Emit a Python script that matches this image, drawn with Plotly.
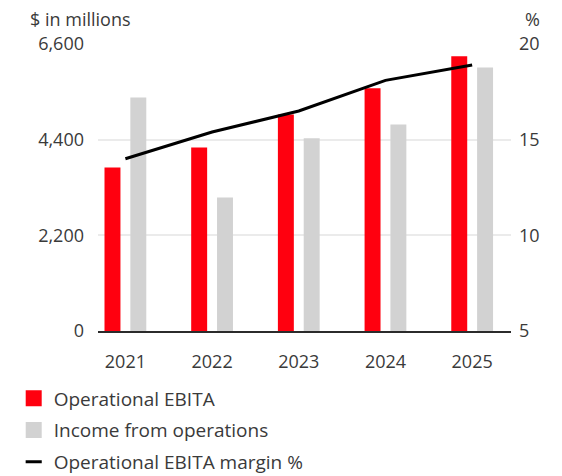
import plotly.graph_objects as go

# Data ($ in millions, margin in %)
years = ["2021", "2022", "2023", "2024", "2025"]
operational_ebita = [3760, 4220, 4980, 5580, 6320]
income_from_operations = [5370, 3070, 4430, 4750, 6060]
ebita_margin_pct = [14.0, 15.4, 16.5, 18.1, 18.9]

left_ticks = [0, 2200, 4400, 6600]
right_ticks = [5, 10, 15, 20]

RED = "#FF000F"
GREY = "#D2D2D2"
TEXT = "#3a3a3a"
FONT = "Open Sans"

W, H = 562, 476
L, R, T, B = 97.5, 50.5, 44, 144.5
plot_w = W - L - R
plot_h = H - T - B


def px_x(px):
    return (px - L) / plot_w


def px_y(py):
    return (H - B - py) / plot_h


fig = go.Figure()

fig.add_trace(go.Bar(
    x=years, y=operational_ebita, name="Operational EBITA",
    marker=dict(color=RED, line=dict(width=0)),
    width=0.184, offset=-0.241, showlegend=False,
))
fig.add_trace(go.Bar(
    x=years, y=income_from_operations, name="Income from operations",
    marker=dict(color=GREY, line=dict(width=0)),
    width=0.184, offset=0.057, showlegend=False,
))
fig.add_trace(go.Scatter(
    x=years, y=ebita_margin_pct, name="Operational EBITA margin %",
    mode="lines", line=dict(color="black", width=3),
    yaxis="y2", showlegend=False,
))

# Legend keys: square swatches for the bars and a short dash for the line
legend_keys = [
    ("Operational EBITA", dict(symbol="square", size=16, color=RED)),
    ("Income from operations", dict(symbol="square", size=16, color=GREY)),
    ("Operational EBITA margin %", dict(symbol="line-ew", size=11.5,
                                        line=dict(color="black", width=3))),
]
for i, (label, mk) in enumerate(legend_keys):
    fig.add_trace(go.Scatter(
        x=[None], y=[None], name=label, mode="markers", marker=mk,
        legendgroup=f"g{i}", showlegend=True, hoverinfo="skip",
    ))

fig.update_layout(
    width=W, height=H,
    margin=dict(l=L, r=R, t=T, b=B, autoexpand=False),
    paper_bgcolor="white", plot_bgcolor="white",
    barmode="overlay",
    font=dict(family=FONT, size=18, color=TEXT),
    showlegend=True,
    legend=dict(
        x=px_x(13), y=px_y(380), xanchor="left", yanchor="top",
        orientation="v", font=dict(size=19, color=TEXT),
        bgcolor="rgba(0,0,0,0)", traceorder="grouped", tracegroupgap=4,
        itemsizing="trace",
    ),
    xaxis=dict(
        type="category", range=[-0.316, 4.448],
        showgrid=False, zeroline=False,
        showline=True, linecolor="#2b2b2b", linewidth=2,
        ticks="", ticklabelstandoff=13,
        tickfont=dict(size=18, color=TEXT),
        fixedrange=True,
    ),
    yaxis=dict(
        range=[0, 6600], tickvals=left_ticks, tickformat=",",
        showgrid=True, gridcolor="#ebebeb", gridwidth=1.5,
        zeroline=False, showline=False, ticks="",
        ticklabelstandoff=13,
        tickfont=dict(size=18, color=TEXT),
    ),
    yaxis2=dict(
        range=[5, 20], tickvals=right_ticks, overlaying="y", side="right",
        showgrid=False, zeroline=False, showline=False, ticks="",
        ticklabelstandoff=7,
        tickfont=dict(size=18, color=TEXT),
    ),
    annotations=[
        dict(text="$ in millions", xref="paper", yref="paper",
             x=px_x(27), y=px_y(19), xanchor="left", yanchor="middle",
             showarrow=False, font=dict(size=18, color=TEXT)),
        dict(text="%", xref="paper", yref="paper",
             x=px_x(543), y=px_y(19), xanchor="right", yanchor="middle",
             showarrow=False, font=dict(size=18, color=TEXT)),
    ],
)

fig.write_html("out.html")
